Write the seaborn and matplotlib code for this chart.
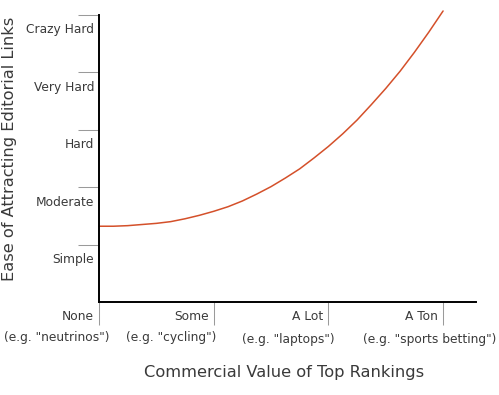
import numpy as np
import pandas as pd
import matplotlib
matplotlib.use("Agg")
import matplotlib.pyplot as plt
import seaborn as sns

# values
commercial_value = [0.0, 0.125, 0.25, 0.375, 0.5, 0.625, 0.75, 0.875, 1.0, 1.125, 1.25, 1.375,
                    1.5, 1.625, 1.75, 1.875, 2.0, 2.125, 2.25, 2.375, 2.5, 2.625, 2.75, 2.875, 3.0]
link_difficulty = [1.32, 1.32, 1.33, 1.35, 1.37, 1.40, 1.45, 1.51, 1.58, 1.66, 1.76, 1.88,
                   2.01, 2.16, 2.32, 2.51, 2.71, 2.93, 3.17, 3.44, 3.72, 4.02, 4.35, 4.70, 5.07]

y_levels = ["Simple", "Moderate", "Hard", "Very Hard", "Crazy Hard"]
x_levels = ["None", "Some", "A Lot", "A Ton"]
x_examples = ['(e.g. "neutrinos")', '(e.g. "cycling")', '(e.g. "laptops")', '(e.g. "sports betting")']

df = pd.DataFrame({"value": commercial_value, "ease": link_difficulty})

sns.set_style("white")
plt.rcParams["font.family"] = ["DejaVu Sans"]
text_col = "#3a3a3a"
grey = "#9a9a9a"
small = 8.8

fig = plt.figure(figsize=(4.99, 3.95), dpi=100)
ax = fig.add_axes([99 / 499, 1 - 302 / 395, (476 - 99) / 499, (302 - 15) / 395])

sns.lineplot(data=df, x="value", y="ease", ax=ax, color="#d4502a", linewidth=1.1, clip_on=False)

ax.set_xlim(0, 3.287)
ax.set_ylim(0, 5)
ax.set_xlabel("")
ax.set_ylabel("")

for s in ["top", "right"]:
    ax.spines[s].set_visible(False)
for s in ["left", "bottom"]:
    ax.spines[s].set_color("black")
    ax.spines[s].set_linewidth(1.4)

# y: grey tick lines at band edges, labels just below each line
ax.set_yticks(np.arange(1, len(y_levels) + 1))
ax.set_yticklabels([])
ax.set_yticks(np.arange(1, len(y_levels) + 1) - 0.235, minor=True)
ax.set_yticklabels(y_levels, minor=True)
ax.tick_params(axis="y", which="major", direction="out", length=15, width=0.75, color=grey, left=True)
ax.tick_params(axis="y", which="minor", length=0, pad=3.5, labelsize=small, labelcolor=text_col, left=True)

# x: grey tick lines, two rows of labels handled as annotations
ax.set_xticks(np.arange(len(x_levels)))
ax.set_xticklabels([])
ax.tick_params(axis="x", which="major", direction="out", length=16.5, width=0.75, color=grey, bottom=True)

x_example_shift = [-42.5, -43, -40, -13]
x_example_drop = [-35, -35, -38, -38]
for i, lab in enumerate(x_levels):
    ax.annotate(lab, xy=(i, 0), xycoords=("data", "axes fraction"), xytext=(-5, -14),
                textcoords="offset pixels", ha="right", va="center", fontsize=small, color=text_col,
                annotation_clip=False)
    ax.annotate(x_examples[i], xy=(i, 0), xycoords=("data", "axes fraction"),
                xytext=(x_example_shift[i], x_example_drop[i]), textcoords="offset pixels",
                ha="center", va="center", fontsize=small, color=text_col, annotation_clip=False)

fig.text(284 / 499, 1 - 372 / 395, "Commercial Value of Top Rankings", ha="center", va="center",
         fontsize=11.7, color=text_col)
fig.text(10 / 499, 1 - 149 / 395, "Ease of Attracting Editorial Links", ha="center", va="center",
         rotation=90, fontsize=11.7, color=text_col)

fig.savefig("out.png", dpi=100)
